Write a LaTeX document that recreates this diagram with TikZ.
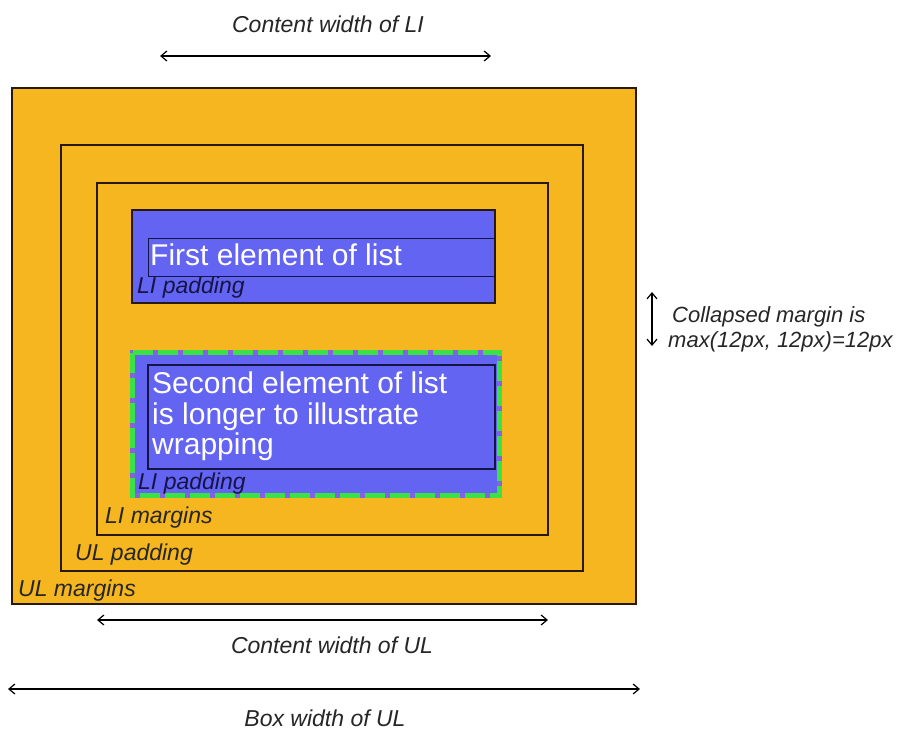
\documentclass[tikz,border=0pt]{standalone}
\usepackage{fontspec}
\setmainfont{Liberation Sans}
\usetikzlibrary{arrows.meta}
\definecolor{ulorange}{RGB}{245,182,32}
\definecolor{liblue}{RGB}{100,100,242}
\definecolor{ligreen}{RGB}{60,225,70}
\definecolor{ligap}{RGB}{130,100,220}
\definecolor{linavy}{RGB}{20,20,70}
\definecolor{framecol}{RGB}{40,25,15}
\begin{document}
\begin{tikzpicture}[x=1pt,y=-1pt,
  frame/.style={draw=framecol, line width=1.3pt},
  lbl/.style={inner sep=0pt, anchor=base west, font=\fontsize{23}{27}\selectfont\itshape, text=black!85},
  dimlbl/.style={inner sep=0pt, anchor=base, font=\fontsize{23}{27}\selectfont\itshape, text=black!85},
  content/.style={inner sep=0pt, anchor=base west, font=\fontsize{30}{31}\selectfont, text=white},
  dimarrow/.style={line width=1.2pt, {Straight Barb[length=6pt,width=10pt]}-{Straight Barb[length=6pt,width=10pt]}}]
\useasboundingbox (0,0) rectangle (920,731);
\fill[white] (0,0) rectangle (920,731);
% UL box
\filldraw[frame, fill=ulorange] (12,88) rectangle (636,604);
\draw[frame] (61,145) rectangle (583,571);
\draw[frame] (97,183) rectangle (548,535);
% first LI
\filldraw[draw=framecol, line width=1.2pt, fill=liblue] (132,210) rectangle (495,303);
\draw[linavy, line width=1pt] (148,238) rectangle (495,276);
\node[content] (t1) at (150,265) {First element of list};
\node[lbl, text=linavy] (p1) at (137,293) {LI padding};
% second LI
\fill[liblue] (130,350) rectangle (502,498);
\draw[line width=4.5pt, color=ligap] (132.5,352.5) rectangle (499.5,495.5);
\draw[line width=4.5pt, ligreen, dash pattern=on 20pt off 5pt] (132.5,352.5) rectangle (499.5,495.5);
\draw[linavy, line width=1.2pt] (148,365) rectangle (495,469);
\node[content] (t2a) at (152,393) {Second element of list};
\node[content] (t2b) at (152,424) {is longer to illustrate};
\node[content] (t2c) at (152,454) {wrapping};
\node[lbl, text=linavy] (p2) at (138,489) {LI padding};
% box labels
\node[lbl] (lim) at (105,523) {LI margins};
\node[lbl] (ulp) at (75,560) {UL padding};
\node[lbl] (ulm) at (18,596) {UL margins};
% top dimension
\node[dimlbl] (cwli) at (328,32) {Content width of LI};
\coordinate (a1) at (160,56);
\coordinate (b1) at (491,56);
\draw[dimarrow] (a1) -- (b1);
% collapsed margin
\coordinate (a2) at (652,292);
\coordinate (b2) at (652,346);
\draw[dimarrow] (a2) -- (b2);
\node[lbl, font=\fontsize{22}{26}\selectfont\itshape] (cm1) at (672,322) {Collapsed margin is};
\node[lbl, font=\fontsize{22}{26}\selectfont\itshape] (cm2) at (668,347) {max(12px, 12px)=12px};
% bottom dimensions
\coordinate (a3) at (97,620);
\coordinate (b3) at (548,620);
\draw[dimarrow] (a3) -- (b3);
\node[dimlbl] (cwul) at (332,653) {Content width of UL};
\coordinate (a4) at (8,689);
\coordinate (b4) at (640,689);
\draw[dimarrow] (a4) -- (b4);
\node[dimlbl] (bwul) at (325,726) {Box width of UL};
\end{tikzpicture}
\end{document}
